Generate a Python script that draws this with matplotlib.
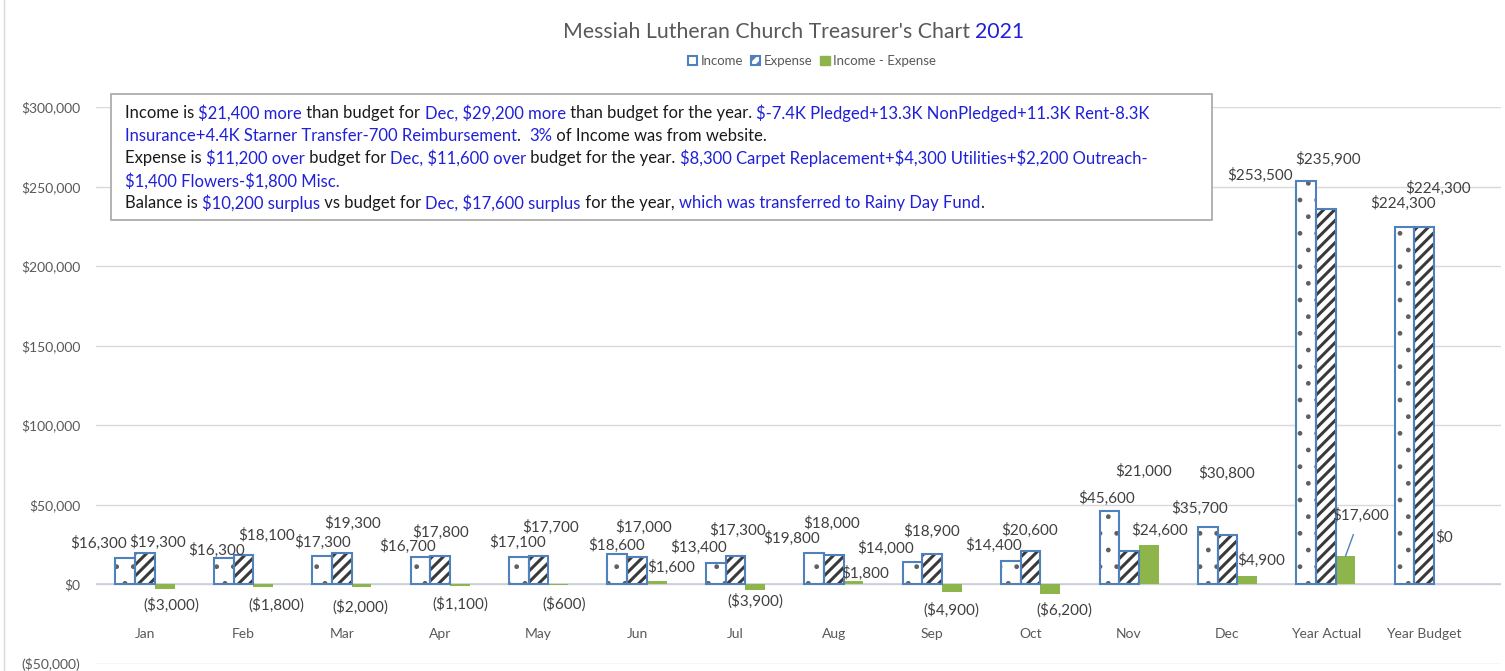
import numpy as np
import matplotlib.pyplot as plt
from matplotlib.patches import Patch, Rectangle
from matplotlib.lines import Line2D

plt.rcParams['font.family'] = ['Lato', 'DejaVu Sans']
plt.rcParams['hatch.linewidth'] = 2.2
plt.rcParams['text.parse_math'] = False

# data
categories = ['Jan', 'Feb', 'Mar', 'Apr', 'May', 'Jun', 'Jul', 'Aug', 'Sep', 'Oct',
              'Nov', 'Dec', 'Year Actual', 'Year Budget']
income = [16300, 16300, 17300, 16700, 17100, 18600, 13400, 19800, 14000, 14400,
          45600, 35700, 253500, 224300]
expense = [19300, 18100, 19300, 17800, 17700, 17000, 17300, 18000, 18900, 20600,
           21000, 30800, 235900, 224300]
diff = [-3000, -1800, -2000, -1100, -600, 1600, -3900, 1800, -4900, -6200,
        24600, 4900, 17600, 0]

# label offsets in pixels (dx, dy up) from bar end
inc_off = [(-26.5, 15), (-7, 8), (0, 14.5), (-13, 10.7), (-1, 14), (-1, 9.5), (-17, 15),
           (-22.5, 14.5), (-26.5, 13.7), (-17.5, 15.4), (-3, 13.5), (-8.5, 19), (-46, 6), (-2, 24)]
exp_off = [(13, 11), (23, 20), (11, 30), (0, 23), (12, 29), (6.5, 30), (2, 26.5),
           (-2, 32), (-1, 23), (-1.5, 21), (15, 79.6), (-1, 62), (2, 50), (14, 39)]
diff_off = [(6.5, -16), (13, -18), (-1, -20), (0, -18), (6, -19), (14, 14), (0, -11),
            (12, 8), (-1, -18), (14, -16), (11, 15), (14, 15.5), (15, 41), (0, 47)]

BLUE_EDGE = '#4f81bd'
GREEN = '#8db54b'
GRAY = '#595959'
TXT_BLUE = '#2020d8'

def money(v):
    return f"${v:,.0f}" if v >= 0 else f"(${-v:,.0f})"

W, H = 1505, 671
fig = plt.figure(figsize=(W / 100, H / 100), dpi=100)
ax = fig.add_axes([95.8 / W, 7.5 / H, (1501 - 95.8) / W, 556.5 / H])
renderer = fig.canvas.get_renderer()

x = np.arange(len(categories))
bw = 0.2

# income: sparse dots + blue outline
with plt.rc_context({'hatch.linewidth': 1.0}):
    dots = ax.bar(x - bw, income, bw, color='white', edgecolor='#606060', hatch='.',
                  linewidth=0, zorder=2)
for p in dots:
    if hasattr(p, 'set_hatch_linewidth'):
        p.set_hatch_linewidth(1.0)
ax.bar(x - bw, income, bw, fill=False, edgecolor=BLUE_EDGE, linewidth=1.5, zorder=3)
# expense: diagonal stripes + blue outline
ax.bar(x, expense, bw, color='white', edgecolor='#3a3a3a', hatch='///', linewidth=0, zorder=2)
ax.bar(x, expense, bw, fill=False, edgecolor=BLUE_EDGE, linewidth=1.5, zorder=3)
# difference
ax.bar(x + bw, diff, bw, color=GREEN, linewidth=0, zorder=2)

lab_kw = dict(textcoords='offset pixels', ha='center', va='center', fontsize=11,
              color='#404040', zorder=5)
for i in range(len(categories)):
    ax.annotate(money(income[i]), (x[i] - bw, income[i]), xytext=inc_off[i], **lab_kw)
    ax.annotate(money(expense[i]), (x[i], expense[i]), xytext=exp_off[i], **lab_kw)
    if i == 12:
        ax.annotate(money(diff[i]), (x[i] + bw, diff[i]), xytext=diff_off[i],
                    arrowprops=dict(arrowstyle='-', color=BLUE_EDGE, lw=1,
                                    shrinkA=7, shrinkB=0), **lab_kw)
    else:
        ax.annotate(money(diff[i]), (x[i] + bw, diff[i]), xytext=diff_off[i], **lab_kw)
    ax.annotate(categories[i], (x[i], 0), xytext=(0, -50), textcoords='offset pixels',
                ha='center', va='center', fontsize=10, color=GRAY)

ax.set_xlim(-0.5, 13.78)
ax.set_ylim(-50000, 300000)
ax.set_yticks(range(-50000, 300001, 50000))
ax.set_yticklabels([money(v) for v in range(-50000, 300001, 50000)])
ax.set_xticks([])
ax.tick_params(axis='y', length=0, pad=11, labelsize=10, labelcolor=GRAY)
ax.grid(axis='y', color='#d9d9d9', linewidth=1, zorder=0)
ax.axhline(0, color='#c8ced8', linewidth=1.2, zorder=1)
ax.set_axisbelow(True)
for s in ax.spines.values():
    s.set_visible(False)

# faint chart-area border on the left
fig.lines.append(Line2D([4 / W, 4 / W], [0, 1], transform=fig.transFigure,
                        color='#d9d9d9', linewidth=1))


def rich_line(x0, y0, segs, size, z=11):
    # draw coloured segments one after the other (pixel coords from top-left)
    xp = x0
    for col, s in segs:
        t = fig.text(xp / W, 1 - y0 / H, s, color=col, fontsize=size, va='center', zorder=z)
        xp += t.get_window_extent(renderer).width


# title
rich_line(563, 32, [(GRAY, "Messiah Lutheran Church Treasurer's Chart "), (TXT_BLUE, '2021')], 15.3)

# legend
handles = [Patch(facecolor='white', edgecolor=BLUE_EDGE, linewidth=1.5, label='Income'),
           Patch(facecolor='white', edgecolor=BLUE_EDGE, linewidth=1.5, hatch='///', label='Expense'),
           Patch(facecolor=GREEN, edgecolor=GREEN, label='Income - Expense')]
fig.legend(handles=handles, loc='center', bbox_to_anchor=(812 / W, 1 - 61 / H), ncol=3,
           frameon=False, fontsize=9.5, handlelength=0.7, handleheight=0.7,
           handletextpad=0.25, columnspacing=0.6, labelcolor=GRAY)

# commentary box
box = Rectangle((111 / W, 1 - 220 / H), 1101 / W, 126 / H, transform=fig.transFigure,
                facecolor='white', edgecolor='#a6a6a6', linewidth=1.2, zorder=10)
fig.patches.append(box)

K, B = '#1a1a1a', TXT_BLUE
lines = [
    [(K, 'Income is '), (B, '$21,400 more'), (K, ' than budget for '), (B, 'Dec, $29,200 more'),
     (K, ' than budget for the year. '), (B, '$-7.4K Pledged+13.3K NonPledged+11.3K Rent-8.3K')],
    [(B, 'Insurance+4.4K Starner Transfer-700 Reimbursement'), (K, '.  '), (B, '3%'),
     (K, ' of Income was from website.')],
    [(K, 'Expense is '), (B, '$11,200 over'), (K, ' budget for '), (B, 'Dec, $11,600 over'),
     (K, ' budget for the year. '), (B, '$8,300 Carpet Replacement+$4,300 Utilities+$2,200 Outreach-')],
    [(B, '$1,400 Flowers-$1,800 Misc.')],
    [(K, 'Balance is '), (B, '$10,200 surplus'), (K, ' vs budget for '), (B, 'Dec, $17,600 surplus'),
     (K, ' for the year, '), (B, 'which was transferred to Rainy Day Fund'), (K, '.')],
]
line_y = [113, 136, 158, 181, 203]
for segs, yc in zip(lines, line_y):
    rich_line(125, yc, segs, 12)

fig.savefig('out.png', dpi=100)
